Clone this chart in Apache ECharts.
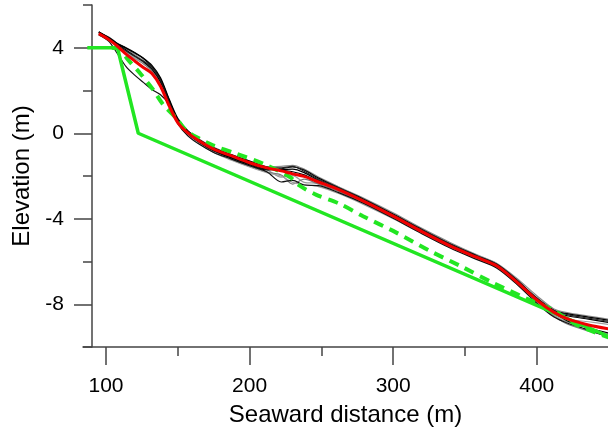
<!DOCTYPE html>
<html lang="en">
<head>
<meta charset="UTF-8">
<title>Profiles</title>
<style>
  * { margin: 0; padding: 0; }
  body { background: #fff; }
</style>
</head>
<body>
<div id="main" style="width:608px;height:432px;"></div>
<script src="https://cdn.jsdelivr.net/npm/echarts@6/dist/echarts.min.js"></script>
<script>
// survey stations (seaward distance, m)
const stations = [95, 102, 108, 114, 120, 126, 132, 138, 144, 150, 157, 165, 175, 187, 200, 212, 222, 230, 238, 248, 262, 280, 300, 320, 340, 358, 372, 386, 400, 412, 422, 436, 450];

// measured profiles (elevation, m)
const p1 = [4.75, 4.45, 4.18, 3.98, 3.75, 3.5, 3.12, 2.52, 1.55, 0.6, 0.0, -0.42, -0.82, -1.15, -1.48, -1.72, -1.66, -1.58, -1.72, -2.1, -2.55, -3.1, -3.78, -4.5, -5.18, -5.72, -6.12, -6.85, -7.72, -8.3, -8.45, -8.6, -8.75];
const p2 = [4.7, 4.5, 4.2, 3.95, 3.68, 3.4, 3.05, 2.45, 1.5, 0.65, 0.1, -0.28, -0.66, -0.98, -1.3, -1.56, -1.55, -1.5, -1.68, -2.05, -2.5, -3.05, -3.72, -4.45, -5.12, -5.68, -6.08, -6.78, -7.6, -8.22, -8.4, -8.55, -8.7];
const p3 = [4.6, 4.3, 3.72, 3.12, 2.72, 2.38, 2.05, 1.8, 1.35, 0.45, -0.12, -0.52, -0.9, -1.2, -1.52, -1.8, -2.28, -2.2, -2.42, -2.45, -2.78, -3.3, -3.98, -4.7, -5.38, -5.9, -6.3, -7.05, -7.95, -8.6, -8.9, -9.2, -9.55];
const p4 = [4.68, 4.4, 4.1, 3.82, 3.55, 3.28, 2.95, 2.35, 1.4, 0.55, -0.05, -0.45, -0.85, -1.15, -1.45, -1.7, -2.05, -1.98, -2.3, -2.35, -2.7, -3.25, -3.92, -4.62, -5.3, -5.84, -6.24, -7.0, -7.85, -8.5, -8.85, -9.1, -9.4];
const p5 = [4.72, 4.42, 4.15, 3.9, 3.62, 3.35, 3.0, 2.4, 1.45, 0.58, 0.0, -0.4, -0.8, -1.12, -1.44, -1.68, -1.7, -1.68, -1.84, -2.2, -2.6, -3.15, -3.82, -4.55, -5.22, -5.76, -6.15, -6.9, -7.75, -8.35, -8.55, -8.7, -8.85];
const p6 = [4.62, 4.35, 4.05, 3.75, 3.5, 3.25, 2.9, 2.3, 1.38, 0.5, -0.1, -0.48, -0.88, -1.22, -1.55, -1.82, -1.95, -2.38, -2.15, -2.38, -2.72, -3.28, -3.95, -4.65, -5.32, -5.86, -6.26, -7.02, -7.88, -8.55, -8.95, -9.25, -9.5];
const p7 = [4.7, 4.45, 4.12, 3.85, 3.6, 3.38, 3.08, 2.5, 1.52, 0.62, 0.05, -0.33, -0.7, -1.02, -1.34, -1.6, -1.62, -1.55, -1.78, -2.15, -2.55, -3.12, -3.8, -4.52, -5.2, -5.74, -6.14, -6.88, -7.7, -8.28, -8.5, -8.65, -8.8];
const p8 = [4.65, 4.4, 4.1, 3.8, 3.52, 3.3, 3.0, 2.42, 1.45, 0.5, -0.08, -0.48, -0.9, -1.25, -1.58, -1.85, -2.0, -2.3, -2.4, -2.5, -2.82, -3.35, -4.0, -4.7, -5.36, -5.88, -6.28, -7.05, -7.9, -8.48, -8.7, -8.82, -8.95];
const p9 = [4.74, 4.48, 4.2, 4.0, 3.78, 3.52, 3.18, 2.6, 1.6, 0.7, 0.12, -0.3, -0.68, -1.0, -1.3, -1.58, -1.72, -1.8, -1.95, -2.25, -2.62, -3.18, -3.85, -4.58, -5.25, -5.78, -6.18, -6.92, -7.78, -8.4, -8.8, -9.1, -9.35];

// mean profile (red)
const meanProfile = [4.66, 4.38, 4.07, 3.7, 3.38, 3.08, 2.8, 2.2, 1.28, 0.5, 0.02, -0.36, -0.74, -1.05, -1.38, -1.62, -1.76, -1.9, -2.02, -2.28, -2.64, -3.2, -3.88, -4.6, -5.28, -5.8, -6.2, -6.95, -7.8, -8.38, -8.7, -8.97, -9.15];

// design profiles (green)
const designX = [87, 108, 122.5, 450];
const designY = [4, 4, 0, -9.5];
const dashedX = [104, 108, 116.5, 124.6, 132.7, 139.7, 149, 156, 165, 174.5, 190.8, 209.3, 228, 234.9, 246.5, 262.7, 279, 302.2, 325.4, 348, 369.5, 392.8, 411.3, 427.6, 450];
const dashedY = [4.0, 3.97, 3.35, 2.74, 2.05, 1.35, 0.7, 0.12, -0.25, -0.57, -0.96, -1.42, -2.05, -2.45, -2.88, -3.3, -3.88, -4.65, -5.5, -6.25, -7.0, -7.73, -8.27, -8.96, -9.55];

// axis labels
const xLabels = [100, 200, 300, 400];
const xMinor = [150, 250, 350];
const yLabels = [-8, -4, 0, 4];

const pair = (xs, ys) => xs.map((x, i) => [x, ys[i]]);

const profiles = [
  { d: p2, c: '#8a8a8a' }, { d: p4, c: '#9a9a9a' }, { d: p6, c: '#7a7a7a' }, { d: p8, c: '#a0a0a0' },
  { d: p1, c: '#000' }, { d: p3, c: '#111' }, { d: p5, c: '#000' }, { d: p7, c: '#222' }, { d: p9, c: '#000' }
];

const font = 'Liberation Sans, Arial, sans-serif';
const series = profiles.map(p => ({
  type: 'line', xAxisIndex: 0, yAxisIndex: 0, data: pair(stations, p.d),
  symbol: 'none', smooth: 0.3, lineStyle: { color: p.c, width: 1.2 }, z: 2
}));
series.push({
  type: 'line', data: pair(designX, designY), symbol: 'none',
  lineStyle: { color: '#22e622', width: 3.5 }, z: 3
});
series.push({
  type: 'line', data: pair(dashedX, dashedY), symbol: 'none', smooth: 0.3,
  lineStyle: { color: '#22e622', width: 4, type: [10, 7] }, z: 4
});
series.push({
  type: 'line', data: pair(stations, meanProfile), symbol: 'none', smooth: 0.3,
  lineStyle: { color: '#f00000', width: 3 }, z: 5
});

const axisCol = '#444';
const chart = echarts.init(document.getElementById('main'));
chart.setOption({
  animation: false,
  grid: { left: 83, right: 0, top: 5, bottom: 82 },
  xAxis: [{
    type: 'value', min: 84, max: 449.6,
    name: 'Seaward distance (m)', nameLocation: 'middle', nameGap: 56,
    nameTextStyle: { fontSize: 24, color: '#000', fontFamily: font },
    axisLine: { onZero: false, lineStyle: { color: axisCol, width: 1.5 } },
    axisTick: { customValues: xMinor, length: 9, lineStyle: { color: axisCol, width: 1.5 } },
    axisLabel: { customValues: xLabels, fontSize: 21, color: '#000', fontFamily: font, margin: 29 },
    splitLine: { show: false }
  }, {
    type: 'value', min: 84, max: 449.6, position: 'bottom',
    axisLine: { show: false, onZero: false },
    axisTick: { customValues: xLabels, length: 18, lineStyle: { color: axisCol, width: 1.5 } },
    axisLabel: { show: false }, splitLine: { show: false }
  }],
  yAxis: [{
    type: 'value', min: -10, max: 6, interval: 2, offset: -9,
    name: 'Elevation (m)', nameLocation: 'middle', nameGap: 58,
    nameTextStyle: { fontSize: 24, color: '#000', fontFamily: font },
    axisLine: { onZero: false, lineStyle: { color: axisCol, width: 1.5 } },
    axisTick: { length: 9, lineStyle: { color: axisCol, width: 1.5 } },
    axisLabel: { customValues: yLabels, fontSize: 21, color: '#000', fontFamily: font, margin: 28 },
    splitLine: { show: false }
  }, {
    type: 'value', min: -10, max: 6, position: 'left', offset: -9,
    axisLine: { show: false, onZero: false },
    axisTick: { customValues: yLabels, length: 18, lineStyle: { color: axisCol, width: 1.5 } },
    axisLabel: { show: false }, splitLine: { show: false }
  }],
  series: series
});
</script>
</body>
</html>
